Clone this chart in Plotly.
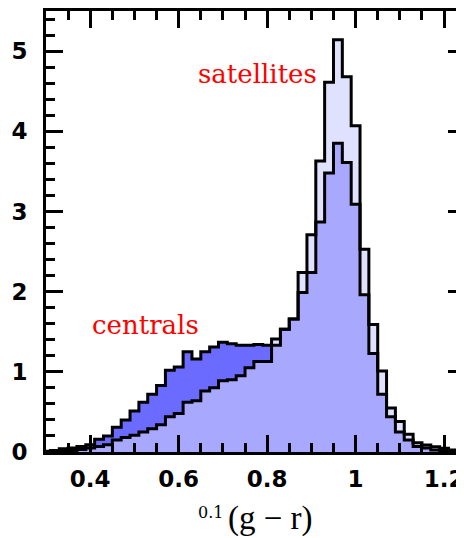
import plotly.graph_objects as go

# bin centres of the colour histogram, ^{0.1}(g-r), bin width 0.02
bin_centers = [0.30, 0.32, 0.34, 0.36, 0.38, 0.40, 0.42, 0.44, 0.46, 0.48,
               0.50, 0.52, 0.54, 0.56, 0.58, 0.60, 0.62, 0.64, 0.66, 0.68,
               0.70, 0.72, 0.74, 0.76, 0.78, 0.80, 0.82, 0.84, 0.86, 0.88,
               0.90, 0.92, 0.94, 0.96, 0.98, 1.00, 1.02, 1.04, 1.06, 1.08,
               1.10, 1.12, 1.14, 1.16, 1.18, 1.20, 1.22, 1.24]

centrals = [0.01, 0.02, 0.04, 0.05, 0.07, 0.09, 0.16, 0.20, 0.31, 0.40,
            0.51, 0.62, 0.72, 0.83, 1.02, 1.06, 1.25, 1.16, 1.25, 1.31,
            1.37, 1.35, 1.33, 1.33, 1.34, 1.33, 1.33, 1.53, 1.66, 1.99,
            2.24, 2.87, 3.48, 3.85, 3.61, 3.09, 1.96, 1.23, 0.72, 0.44,
            0.25, 0.15, 0.07, 0.05, 0.025, 0.016, 0.01, 0.005]

satellites = [0.005, 0.01, 0.015, 0.02, 0.03, 0.05, 0.07, 0.09, 0.15, 0.18,
              0.21, 0.25, 0.29, 0.34, 0.44, 0.48, 0.62, 0.64, 0.76, 0.80,
              0.89, 0.90, 0.95, 1.05, 1.13, 1.13, 1.41, 1.53, 1.66, 2.24,
              2.71, 3.63, 4.61, 5.14, 4.68, 4.07, 2.53, 1.59, 1.01, 0.55,
              0.38, 0.22, 0.115, 0.087, 0.066, 0.046, 0.025, 0.01]

x_ticks = [0.4, 0.6, 0.8, 1.0, 1.2]
x_ticklabels = ["0.4", "0.6", "0.8", "1", "1.2"]
y_ticks = [0, 1, 2, 3, 4, 5]
y_ticklabels = ["0", "1", "2", "3", "4", "5"]

BW = 0.02


def steps(vals):
    xs = [c - BW / 2 for c in bin_centers] + [bin_centers[-1] + BW / 2]
    ys = list(vals) + [vals[-1]]
    return xs, ys


both = [min(a, b) for a, b in zip(centrals, satellites)]

fig = go.Figure()

for vals, col in [(satellites, "rgb(224,224,255)"),
                  (centrals, "rgb(107,107,255)"),
                  (both, "rgb(168,168,255)")]:
    xs, ys = steps(vals)
    fig.add_trace(go.Scatter(x=xs, y=ys, mode="lines", line_shape="hv",
                             line=dict(width=0, color=col), fill="tozeroy",
                             fillcolor=col, hoverinfo="skip", showlegend=False))

for vals in [satellites, centrals]:
    xs, ys = steps(vals)
    fig.add_trace(go.Scatter(x=xs, y=ys, mode="lines", line_shape="hv",
                             line=dict(width=3, color="black"),
                             hoverinfo="skip", showlegend=False))

# invisible trace to activate right-hand tick axis
fig.add_trace(go.Scatter(x=[0.5], y=[0], yaxis="y2", mode="markers",
                         marker=dict(opacity=0), hoverinfo="skip",
                         showlegend=False))

tickfont = dict(family="DejaVu Sans", size=23, color="black", weight="bold")

# page body has an 8px margin: size the figure so the plot lands where it should
fig.update_layout(
    width=456, height=530,
    margin=dict(l=38, r=0, t=2, b=86),
    paper_bgcolor="white", plot_bgcolor="white",
    xaxis=dict(range=[0.3, 1.2383], tickvals=x_ticks, ticktext=x_ticklabels,
               ticks="inside", ticklen=17, tickwidth=2.5, tickcolor="black",
               showline=True, linewidth=3, linecolor="black", mirror="ticks",
               showgrid=False, zeroline=False, tickfont=tickfont,
               ticklabelstandoff=4, ticklabeloverflow="allow",
               minor=dict(ticks="inside", ticklen=9, tickwidth=2.5,
                          tickcolor="black", dtick=0.05, tick0=0,
                          showgrid=False)),
    yaxis=dict(range=[0, 5.5], tickvals=y_ticks, ticktext=y_ticklabels,
               ticks="inside", ticklen=17, tickwidth=2.5, tickcolor="black",
               showline=True, linewidth=3, linecolor="black",
               showgrid=False, zeroline=False, tickfont=tickfont,
               ticklabelstandoff=11, ticklabeloverflow="allow",
               minor=dict(ticks="inside", ticklen=9, tickwidth=2.5,
                          tickcolor="black", dtick=0.2, tick0=0,
                          showgrid=False)),
    yaxis2=dict(range=[0, 5.5], overlaying="y", side="right", anchor="x",
                tickvals=y_ticks, showticklabels=False,
                ticks="inside", ticklen=13, tickwidth=2.5, tickcolor="black",
                showline=False, showgrid=False, zeroline=False,
                minor=dict(ticks="inside", ticklen=4, tickwidth=2.5,
                           tickcolor="black", dtick=0.2, tick0=0,
                           showgrid=False)),
)

red_font = dict(family="DejaVu Serif", size=26, color="red")
fig.add_annotation(x=0.778, y=4.72, xref="x", yref="y", text="satellites",
                   showarrow=False, font=red_font, xanchor="center",
                   yanchor="middle")
fig.add_annotation(x=0.526, y=1.58, xref="x", yref="y", text="centrals",
                   showarrow=False, font=red_font, xanchor="center",
                   yanchor="middle")

# x-axis label  ^{0.1}(g-r)
fig.add_annotation(x=(272.5 - 46) / 418, y=(452 - 519) / 442, xref="paper",
                   yref="paper", text="(g \u2212 r)", showarrow=False,
                   font=dict(family="Liberation Serif", size=33, color="black"),
                   xanchor="center", yanchor="middle")
fig.add_annotation(x=(211.7 - 46) / 418, y=(452 - 513) / 442, xref="paper",
                   yref="paper", text="0.1", showarrow=False,
                   font=dict(family="DejaVu Serif", size=16, color="black"),
                   xanchor="center", yanchor="middle")

fig.write_html("out.html")
